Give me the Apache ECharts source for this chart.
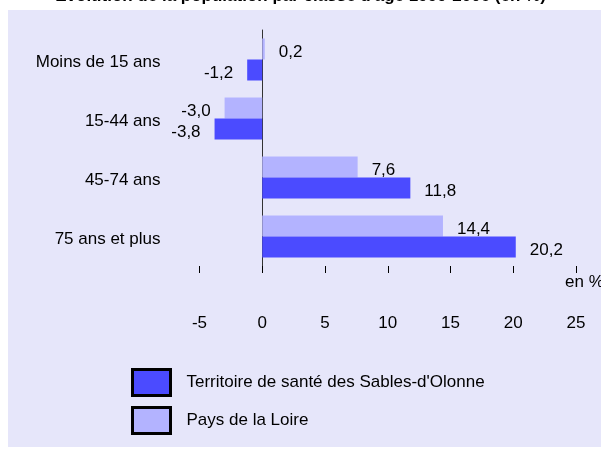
<!DOCTYPE html>
<html>
<head>
<meta charset="utf-8">
<script src="https://cdn.jsdelivr.net/npm/echarts@6/dist/echarts.min.js"></script>
<style>
  html, body { margin: 0; padding: 0; background: #fff; }
  #main { width: 601px; height: 454px; }
</style>
</head>
<body>
<div id="main"></div>
<script>
var categories = ['Moins de 15 ans', '15-44 ans', '45-74 ans', '75 ans et plus'];
var territoire = [-1.2, -3.8, 11.8, 20.2];
var paysLoire = [0.2, -3.0, 7.6, 14.4];
var seriesNames = ["Territoire de santé des Sables-d'Olonne", 'Pays de la Loire'];

var myChart = echarts.init(document.getElementById('main'));

function fmt(v) {
	return v.toFixed(1).replace('.', ',');
}

function buildData(values) {
	return values.map(function (v) {
		return {
			value: v,
			label: { position: v < 0 ? 'left' : 'right' }
		};
	});
}

var font = 'Liberation Sans, Arial, sans-serif';

var option = {
	animation: false,
	textStyle: { fontFamily: font },
	graphic: [{
		type: 'rect',
		left: 8,
		top: 10,
		shape: { width: 600, height: 437 },
		style: { fill: '#e6e6fa' },
		z: -10
	}],
	title: {
		text: "Évolution de la population par classe d'âge 1999-2006 (en %)",
		left: 'center',
		top: -17,
		textStyle: { fontSize: 17, fontWeight: 'bold', color: '#000', fontFamily: font }
	},
	grid: {
		left: 199.5,
		right: 25,
		top: 30,
		bottom: 188,
		outerBoundsMode: 'none'
	},
	xAxis: {
		type: 'value',
		min: -5,
		max: 25,
		interval: 5,
		name: 'en %',
		nameLocation: 'end',
		nameGap: -11,
		nameTextStyle: {
			color: '#000',
			fontSize: 17,
			verticalAlign: 'top',
			padding: [8, 0, 0, 0]
		},
		axisLine: { lineStyle: { color: '#000', width: 1 } },
		axisTick: { show: true, length: 7, lineStyle: { color: '#000' } },
		axisLabel: { color: '#000', fontSize: 17, margin: 49 },
		splitLine: { show: false }
	},
	yAxis: {
		type: 'category',
		inverse: true,
		data: categories,
		axisLine: { onZero: true, lineStyle: { color: '#333', width: 1 } },
		axisTick: { show: false },
		axisLabel: {
			color: '#000',
			fontSize: 17,
			margin: 39,
			verticalAlign: 'top',
			padding: [-6, 0, 0, 0]
		}
	},
	legend: {
		data: seriesNames,
		orient: 'vertical',
		left: 126,
		top: 363,
		icon: 'rect',
		itemWidth: 38,
		itemHeight: 26,
		itemGap: 9,
		textStyle: { color: '#000', fontSize: 17, padding: [0, 0, 0, 11] },
		itemStyle: { borderColor: '#000', borderWidth: 3 }
	},
	series: [{
		name: seriesNames[1],
		type: 'bar',
		barWidth: 21,
		barGap: 0,
		itemStyle: { color: '#b3b3ff' },
		label: {
			show: true,
			distance: 14,
			offset: [0, 3],
			color: '#000',
			fontSize: 17,
			formatter: function (p) { return fmt(p.value); }
		},
		data: buildData(paysLoire)
	}, {
		name: seriesNames[0],
		type: 'bar',
		barWidth: 21,
		barGap: 0,
		itemStyle: { color: '#4b4bff' },
		label: {
			show: true,
			distance: 14,
			offset: [0, 3],
			color: '#000',
			fontSize: 17,
			formatter: function (p) { return fmt(p.value); }
		},
		data: buildData(territoire)
	}]
};

myChart.setOption(option);
</script>
</body>
</html>
